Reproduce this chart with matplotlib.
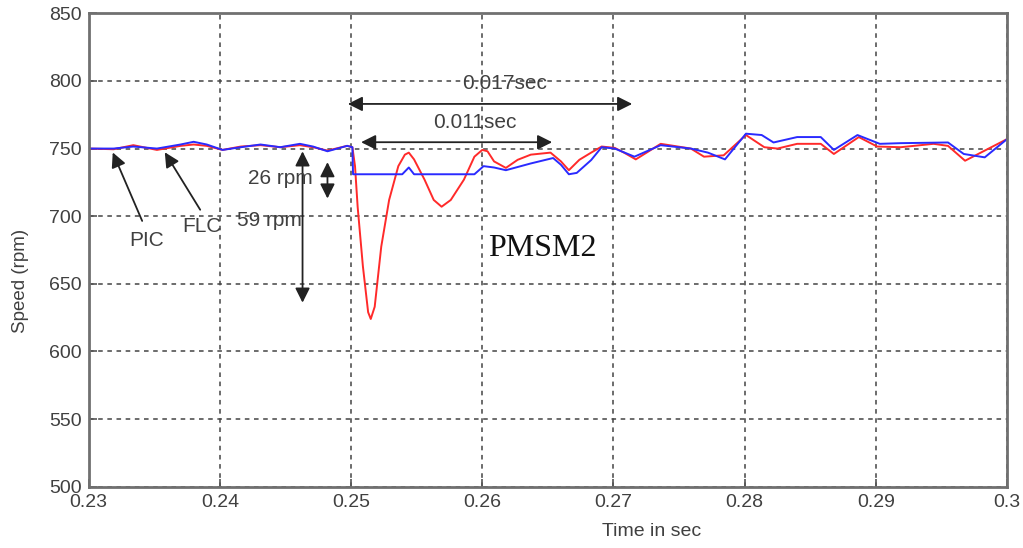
import numpy as np
import matplotlib
matplotlib.use('Agg')
import matplotlib.pyplot as plt

# PIC response (red)
t_pic = [0.2300, 0.2319, 0.2334, 0.2352, 0.2370, 0.2380, 0.2390, 0.2402, 0.2416, 0.2431,
         0.2446, 0.2461, 0.2471, 0.2482, 0.2497, 0.2501, 0.2503, 0.2505, 0.2509, 0.2513,
         0.2515, 0.2518, 0.2523, 0.2529, 0.2536, 0.2541, 0.2544, 0.2548, 0.2556, 0.2563,
         0.2569, 0.2576, 0.2586, 0.2594, 0.2600, 0.2604, 0.2609, 0.2618, 0.2627, 0.2637,
         0.2652, 0.2660, 0.2666, 0.2674, 0.2683, 0.2691, 0.2701, 0.2708, 0.2717, 0.2736,
         0.2759, 0.2769, 0.2784, 0.2801, 0.2815, 0.2825, 0.2840, 0.2858, 0.2868, 0.2887,
         0.2901, 0.2919, 0.2944, 0.2955, 0.2968, 0.2980, 0.3000]
speed_pic = [750, 749.5, 752.5, 749, 752, 753, 752, 749, 751.5, 752.5,
             751, 752.5, 751, 748.5, 752, 751, 737, 707, 663, 629,
             624, 633, 677.5, 712, 737, 745.5, 747, 742, 727, 712,
             707, 712, 727, 744, 749, 748, 740.5, 735.7, 741.7, 745.5,
             747, 740.5, 734, 741.7, 747, 751.5, 750.5, 747, 742, 753.5,
             750, 744, 745, 760, 751, 750, 753.5, 753.5, 746, 758.5,
             751.5, 751, 753.5, 752, 741, 747, 757]

# FLC response (blue)
t_flc = [0.2300, 0.2319, 0.2334, 0.2352, 0.2370, 0.2380, 0.2390, 0.2402, 0.2416, 0.2431,
         0.2446, 0.2461, 0.2471, 0.2482, 0.2497, 0.2501, 0.25015, 0.2539, 0.2544, 0.2548,
         0.2594, 0.2601, 0.2609, 0.2618, 0.2637, 0.2654, 0.2660, 0.2666, 0.2672, 0.2683,
         0.2691, 0.2701, 0.2716, 0.2736, 0.2759, 0.2772, 0.2785, 0.2801, 0.2813, 0.2822,
         0.2840, 0.2858, 0.2868, 0.2886, 0.2903, 0.2919, 0.2955, 0.2967, 0.2983, 0.3000]
speed_flc = [750, 750, 751.5, 750, 753, 755, 753, 749, 751, 753,
             751, 753.5, 751.5, 748, 752, 751, 731, 731, 736, 731,
             731, 737, 736, 734, 739, 743, 738, 731, 732, 741.5,
             751, 750, 744, 752.5, 750, 747, 742, 761, 760, 754.5,
             758.5, 758.5, 749, 760, 753.5, 754, 754.5, 746, 743.5, 757]

x_ticks = [0.23, 0.24, 0.25, 0.26, 0.27, 0.28, 0.29, 0.3]
x_tick_labels = ['0.23', '0.24', '0.25', '0.26', '0.27', '0.28', '0.29', '0.3']
y_ticks = [500, 550, 600, 650, 700, 750, 800, 850]

txt_col = '#404040'
sans = ['Liberation Sans', 'DejaVu Sans']

fig = plt.figure(figsize=(10.23, 5.48), dpi=100)
ax = fig.add_axes([0.0867, 0.1119, 0.8977, 0.8638])

ax.plot(t_pic, speed_pic, color='#ff2a2a', linewidth=1.4)
ax.plot(t_flc, speed_flc, color='#2a2aff', linewidth=1.4)

ax.set_xlim(0.23, 0.3)
ax.set_ylim(500, 850)
ax.set_xticks(x_ticks)
ax.set_xticklabels(x_tick_labels)
ax.set_yticks(y_ticks)
ax.tick_params(direction='in', length=6, width=1.2, color='#555555',
               labelcolor=txt_col, labelsize=14)
ax.tick_params(axis='x', pad=5)
ax.tick_params(axis='y', pad=5)
for lab in ax.get_xticklabels() + ax.get_yticklabels():
    lab.set_family(sans)

for s in ax.spines.values():
    s.set_color('#707070')
    s.set_linewidth(2)

ax.grid(True, linestyle=(0, (3, 3)), color='#444444', linewidth=1.1)

ax.set_xlabel('Time in sec', fontsize=14, family=sans, color=txt_col)
ax.xaxis.set_label_coords(0.613, -0.095)
ax.xaxis.label.set_va('center')
ax.set_ylabel('Speed (rpm)', fontsize=13.5, family=sans, color=txt_col)
ax.yaxis.set_label_coords(-0.074, 0.4345)
ax.yaxis.label.set_va('center')

# annotations
arr = dict(arrowstyle='-|>', color='#222222', lw=1.3, mutation_scale=22)
darr = dict(arrowstyle='<|-|>', color='#222222', lw=1.3, mutation_scale=22)

ax.annotate('', xy=(0.23175, 749), xytext=(0.23416, 694.6), arrowprops=arr)
ax.annotate('', xy=(0.23569, 749), xytext=(0.23861, 703), arrowprops=arr)
ax.text(0.2344, 682, 'PIC', fontsize=15, family=sans, color=txt_col, ha='center', va='center')
ax.text(0.2386, 692.5, 'FLC', fontsize=15, family=sans, color=txt_col, ha='center', va='center')

ax.annotate('', xy=(0.2482, 742), xytext=(0.2482, 711), arrowprops=darr)
ax.annotate('', xy=(0.2463, 750), xytext=(0.2463, 634), arrowprops=darr)
ax.text(0.2446, 728, '26 rpm', fontsize=15, family=sans, color=txt_col, ha='center', va='center')
ax.text(0.2438, 697, '59 rpm', fontsize=15, family=sans, color=txt_col, ha='center', va='center')

ax.annotate('', xy=(0.24954, 783), xytext=(0.27164, 783), arrowprops=darr)
ax.annotate('', xy=(0.25055, 754.7), xytext=(0.26554, 754.7), arrowprops=darr)
ax.text(0.26173, 797.8, '0.017sec', fontsize=15, family=sans, color=txt_col, ha='center', va='center')
ax.text(0.25944, 769.5, '0.011sec', fontsize=15, family=sans, color=txt_col, ha='center', va='center')

ax.text(0.26459, 676, 'PMSM2', fontsize=23, family=['Liberation Serif', 'DejaVu Serif'],
        color='#111111', ha='center', va='center')

fig.savefig('out.png', dpi=100)
